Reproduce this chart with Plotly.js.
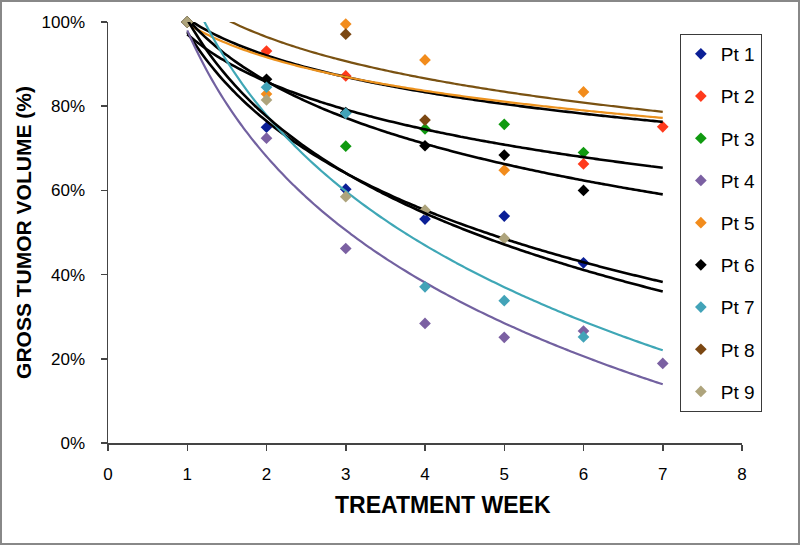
<!DOCTYPE html>
<html>
<head>
<meta charset="utf-8">
<script src="https://cdn.plot.ly/plotly-3.0.1.min.js"></script>
<style>
  html, body { margin: 0; padding: 0; background: #fff; }
  #chart { width: 800px; height: 545px; }
</style>
</head>
<body>
<div id="chart"></div>
<script>
// ---- data ----
const weeks = [1, 2, 3, 4, 5, 6, 7];
const patientNames = ['Pt 1', 'Pt 2', 'Pt 3', 'Pt 4', 'Pt 5', 'Pt 6', 'Pt 7', 'Pt 8', 'Pt 9'];

// gross tumor volume (% of week 1), null = no visible point
const pt1 = [100, 75.0, 60.3, 53.2, 53.9, 42.8, null];
const pt2 = [100, 93.1, 87.2, null, null, 66.3, 75.1];
const pt3 = [100, null, 70.5, 74.6, 75.7, 69.0, null];
const pt4 = [100, 72.4, 46.2, 28.4, 25.1, 26.6, 18.9];
const pt5 = [100, 82.9, 99.5, 91.0, 64.8, 83.4, null];
const pt6 = [100, 86.4, 78.5, 70.6, 68.4, 60.0, null];
const pt7 = [100, 84.5, 78.3, 37.1, 33.8, 25.2, null];
const pt8 = [100, null, 97.1, 76.7, null, null, null];
const pt9 = [100, 81.5, 58.5, 55.3, 48.6, null, null];

// logarithmic trend lines  y = a + b * ln(week)
const trendA = [97.6, 100.8, 97.1, 98.0, 99.6, 100.8, 108.8, 106.3, 100.6];
const trendB = [-30.5, -12.6, -16.3, -43.2, -11.5, -21.45, -44.6, -14.2, -33.2];
const trendStart = 1;
const trendEnd = 7;

const markerColors = ['#0b1f96', '#ff3a1c', '#109a10', '#7b60a2', '#f28c1c', '#000000', '#42a3b8', '#7b4712', '#aea47c'];
const lineColors   = ['#000000', '#000000', '#000000', '#7261a0', '#ec921e', '#000000', '#3fa7b6', '#7a5212', '#000000'];

const xTicks = [0, 1, 2, 3, 4, 5, 6, 7, 8];
const yTicks = [0, 20, 40, 60, 80, 100];
const xTitle = 'TREATMENT WEEK';
const yTitle = 'GROSS TUMOR VOLUME (%)';

// ---- build traces ----
const series = [pt1, pt2, pt3, pt4, pt5, pt6, pt7, pt8, pt9];
const traces = [];
const trendX = [];
for (let i = 0; i <= 120; i++) trendX.push(trendStart + (trendEnd - trendStart) * i / 120);

series.forEach(function (vals, i) {
  traces.push({
    type: 'scatter', mode: 'markers',
    name: patientNames[i],
    legendgroup: 'g' + i,
    x: weeks, y: vals,
    cliponaxis: false,
    marker: { symbol: 'diamond', size: 9, color: markerColors[i], line: { width: 0 } },
    hoverinfo: 'x+y+name'
  });
  traces.push({
    type: 'scatter', mode: 'lines',
    name: patientNames[i] + ' trend',
    legendgroup: 'g' + i,
    showlegend: false,
    x: trendX,
    y: trendX.map(function (x) { return trendA[i] + trendB[i] * Math.log(x); }),
    line: { color: lineColors[i], width: (lineColors[i] === '#000000') ? 2.6 : 2.2, shape: 'spline' },
    hoverinfo: 'skip'
  });
});

const font = 'Liberation Sans, Arial, Helvetica, sans-serif';

const layout = {
  width: 800, height: 545,
  margin: { l: 108, r: 58, t: 22, b: 102 },
  paper_bgcolor: '#ffffff', plot_bgcolor: '#ffffff',
  font: { family: font, color: '#000', size: 17 },
  showlegend: true,
  legend: {
    x: 0.902, y: 0.9715, xanchor: 'left', yanchor: 'top',
    bgcolor: '#ffffff', bordercolor: '#3a3a3a', borderwidth: 1,
    font: { family: font, size: 19, color: '#000' },
    traceorder: 'grouped', tracegroupgap: 14.5,
    itemwidth: 30
  },
  xaxis: {
    range: [0, 8], tickvals: xTicks, ticktext: xTicks.map(String),
    showgrid: false, zeroline: false,
    showline: true, linecolor: '#444', linewidth: 1.5,
    ticks: 'outside', ticklen: 6, tickcolor: '#444', tickwidth: 1.5,
    ticklabelstandoff: 9,
    tickfont: { family: font, size: 17, color: '#000' },
    automargin: false
  },
  yaxis: {
    range: [0, 100], tickvals: yTicks, ticktext: yTicks.map(function (v) { return v + '%'; }),
    showgrid: false, zeroline: false,
    showline: true, linecolor: '#444', linewidth: 1.5,
    ticks: 'outside', ticklen: 6, tickcolor: '#444', tickwidth: 1.5,
    ticklabelstandoff: 12,
    tickfont: { family: font, size: 17, color: '#000' },
    title: { text: yTitle, font: { family: font, size: 21, color: '#000', weight: 'bold' }, standoff: 4 },
    automargin: false
  },
  annotations: [{
    text: xTitle, xref: 'paper', yref: 'paper',
    x: (443 - 108) / 634, y: (443 - 505) / 421, xanchor: 'center', yanchor: 'middle',
    showarrow: false,
    font: { family: font, size: 23, color: '#000', weight: 'bold' }
  }],
  shapes: [{
    type: 'rect', xref: 'paper', yref: 'paper', layer: 'above',
    x0: (1 - 108) / 634, x1: (799 - 108) / 634,
    y0: (443 - 544) / 421, y1: (443 - 1) / 421,
    line: { color: '#888', width: 2 }, fillcolor: 'rgba(0,0,0,0)'
  }]
};

Plotly.newPlot('chart', traces, layout, { displayModeBar: false, staticPlot: true });
</script>
</body>
</html>
